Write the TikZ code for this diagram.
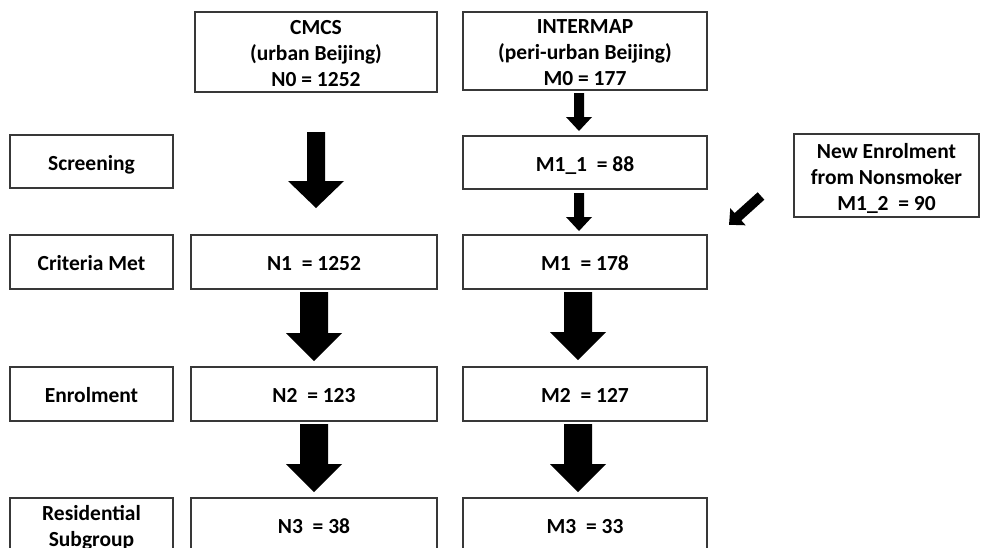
\documentclass[tikz,border=0pt]{standalone}
\usepackage{fontspec}
\setmainfont{Carlito}
\usetikzlibrary{calc}
\newcommand{\boxtext}[1]{\raisebox{-3.6pt}[\height][\depth]{\begin{tabular}{@{}c@{}}#1\end{tabular}}}
\tikzset{
  box/.style={draw=black!78, line width=1.3pt, fill=white, inner sep=0pt, outer sep=0pt,
    font=\fontsize{21.5}{26}\selectfont\bfseries},
  arrowfill/.style={fill=black},
}
% #1 src, #2 dst, #3 x, #4 gap top, #5 gap bottom, #6 head length, #7 half shaft, #8 half head
\newcommand{\blk}[8]{%
  \fill[arrowfill] let \p1=(#1.south), \p2=(#2.north) in
    (#3pt-#7pt,\y1-#4pt) -- (#3pt+#7pt,\y1-#4pt) -- (#3pt+#7pt,\y2+#5pt+#6pt)
    -- (#3pt+#8pt,\y2+#5pt+#6pt) -- (#3pt,\y2+#5pt) -- (#3pt-#8pt,\y2+#5pt+#6pt)
    -- (#3pt-#7pt,\y2+#5pt+#6pt) -- cycle;}
\begin{document}
\begin{tikzpicture}[x=1pt,y=-1pt]
\useasboundingbox (0,0) rectangle (981,547);
\clip (0,0) rectangle (981,547);
% top row
\node[box, minimum width=242pt, minimum height=80pt] (cmcs) at (316,52) {\boxtext{CMCS\\(urban Beijing)\\N0 = 1252}};
\node[box, minimum width=244pt, minimum height=78pt] (inter) at (585,51) {\boxtext{INTERMAP\\(peri-urban Beijing)\\M0 = 177}};
% screening row
\node[box, minimum width=163pt, minimum height=53pt] (scr) at (91.5,161.5) {\boxtext{Screening}};
\node[box, minimum width=244pt, minimum height=53pt] (m11) at (585,162.5) {\boxtext{M1\_1\ \ = 88}};
\node[box, minimum width=185pt, minimum height=83pt] (newe) at (886.5,175.5) {\boxtext{New Enrolment\\from Nonsmoker\\M1\_2\ \ = 90}};
% criteria row
\node[box, minimum width=163pt, minimum height=54pt] (crit) at (91.5,262) {\boxtext{Criteria Met}};
\node[box, minimum width=246pt, minimum height=54pt] (n1) at (314,262) {\boxtext{N1\ \ = 1252}};
\node[box, minimum width=244pt, minimum height=54pt] (m1) at (585,262) {\boxtext{M1\ \ = 178}};
% enrolment row
\node[box, minimum width=163pt, minimum height=54pt] (enr) at (91.5,394) {\boxtext{Enrolment}};
\node[box, minimum width=246pt, minimum height=54pt] (n2) at (314,394) {\boxtext{N2\ \ = 123}};
\node[box, minimum width=244pt, minimum height=54pt] (m2) at (585,394) {\boxtext{M2\ \ = 127}};
% residential row
\node[box, minimum width=163pt, minimum height=54pt] (res) at (91.5,525) {\boxtext{Residential\\Subgroup}};
\node[box, minimum width=246pt, minimum height=54pt] (n3) at (314,525) {\boxtext{N3\ \ = 38}};
\node[box, minimum width=244pt, minimum height=54pt] (m3) at (585,525) {\boxtext{M3\ \ = 33}};
% arrows
\blk{cmcs}{n1}{316}{40}{27}{27}{9}{28}
\blk{inter}{m11}{579}{3}{5}{14}{5}{13}
\blk{m11}{m1}{579}{4}{4}{14}{5}{13}
\blk{n1}{n2}{314}{3}{6}{28}{14}{28}
\blk{m1}{m2}{578}{3}{7}{28}{14}{28}
\blk{n2}{n3}{314}{3}{6}{28}{14}{28}
\blk{m2}{m3}{578}{3}{6}{28}{14}{28}
% diagonal arrow from new enrolment
\coordinate (dtail) at (761,196);
\fill[arrowfill, shift={(dtail)}, rotate=222]
  (0,-5) -- (31,-5) -- (31,-11.5) -- (43,0) -- (31,11.5) -- (31,5) -- (0,5) -- cycle;
\end{tikzpicture}
\end{document}
